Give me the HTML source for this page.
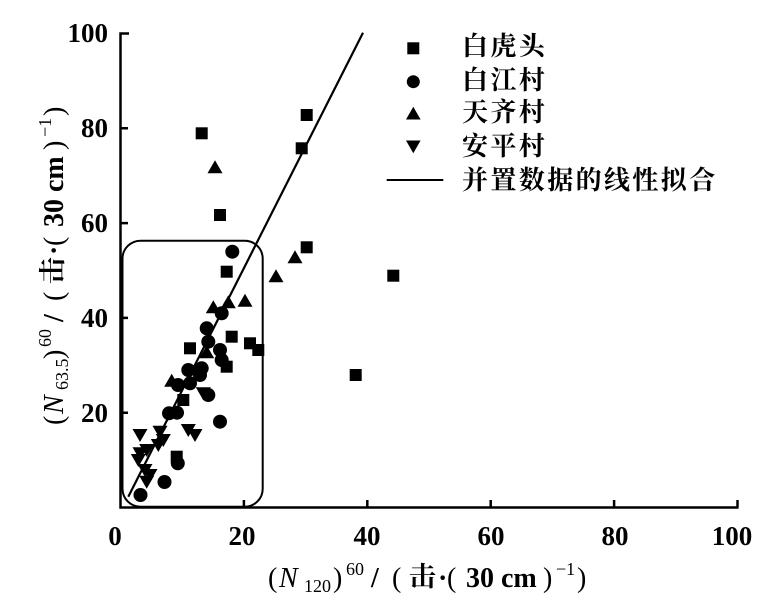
<!DOCTYPE html>
<html><head><meta charset="utf-8"><style>
html,body{margin:0;padding:0;background:#fff;}
svg{display:block;}
.t{font-family:"Liberation Serif","Noto Serif CJK SC",serif;font-weight:bold;font-size:27px;fill:#000;}
.l{font-family:"Liberation Serif","Noto Serif CJK SC",serif;fill:#000;}
.cn{font-family:"Liberation Serif","Noto Serif CJK SC",serif;font-weight:bold;font-size:26px;letter-spacing:2.4px;fill:#000;}
</style></head><body>
<svg width="780" height="616" viewBox="0 0 780 616" xmlns="http://www.w3.org/2000/svg">
<rect width="780" height="616" fill="#fff"/>
<!-- axes -->
<g stroke="#000" stroke-width="2.5" fill="none">
<path d="M129,33.5 H120.5 V507.5 H738.5"/>
<path d="M120.5,412.7 H128 M120.5,317.9 H128 M120.5,223.1 H128 M120.5,128.3 H128"/>
<path d="M243.9,507.5 V500 M367.3,507.5 V500 M490.7,507.5 V500 M614.1,507.5 V500 M737.5,507.5 V500"/>
</g>
<!-- rounded rect -->
<rect x="122.5" y="240.7" width="140.2" height="266" rx="18" ry="18" fill="none" stroke="#000" stroke-width="2"/>
<!-- fit line -->
<line x1="128.3" y1="496.7" x2="363" y2="32.7" stroke="#000" stroke-width="2.2"/>
<!-- y tick labels -->
<g class="t" text-anchor="end">
<text x="108" y="42">100</text>
<text x="108" y="137">80</text>
<text x="108" y="232">60</text>
<text x="108" y="327">40</text>
<text x="108" y="422">20</text>
</g>
<!-- x tick labels -->
<g class="t" text-anchor="middle">
<text x="115" y="545">0</text>
<text x="242" y="545">20</text>
<text x="367" y="545">40</text>
<text x="491" y="545">60</text>
<text x="615" y="545">80</text>
<text x="732" y="545">100</text>
</g>
<!-- squares -->
<g fill="#000">
<rect x="195.7" y="127.3" width="12" height="12"/>
<rect x="300.7" y="109" width="12" height="12"/>
<rect x="295.7" y="142.3" width="12" height="12"/>
<rect x="214" y="209" width="12" height="12"/>
<rect x="300.7" y="241.3" width="12" height="12"/>
<rect x="387.3" y="269.7" width="12" height="12"/>
<rect x="349.7" y="369" width="12" height="12"/>
<rect x="220.7" y="265.7" width="12" height="12"/>
<rect x="225.7" y="330.7" width="12" height="12"/>
<rect x="244" y="337.3" width="12" height="12"/>
<rect x="252.3" y="344" width="12" height="12"/>
<rect x="184" y="342.3" width="12" height="12"/>
<rect x="220.7" y="360.7" width="12" height="12"/>
<rect x="177.3" y="394" width="12" height="12"/>
<rect x="170.7" y="450.7" width="12" height="12"/>
</g>
<!-- circles -->
<g fill="#000">
<circle cx="232.3" cy="251.7" r="7"/>
<circle cx="221.7" cy="313.3" r="7"/>
<circle cx="206.7" cy="328.3" r="7"/>
<circle cx="208.3" cy="341.7" r="7"/>
<circle cx="220" cy="350" r="7"/>
<circle cx="221.7" cy="360" r="7"/>
<circle cx="188.3" cy="370" r="7"/>
<circle cx="201.7" cy="368.3" r="7"/>
<circle cx="200" cy="375" r="7"/>
<circle cx="178" cy="385" r="7"/>
<circle cx="190" cy="383.3" r="7"/>
<circle cx="208.3" cy="395" r="7"/>
<circle cx="169" cy="413.3" r="7"/>
<circle cx="177" cy="412.7" r="7"/>
<circle cx="220" cy="421.7" r="7"/>
<circle cx="177.8" cy="463.3" r="7"/>
<circle cx="164.5" cy="482" r="7"/>
<circle cx="140.5" cy="495" r="7"/>
</g>
<!-- up triangles -->
<g fill="#000">
<polygon points="215,160.3 207.5,173.3 222.5,173.3"/>
<polygon points="295,250.3 287.5,263.3 302.5,263.3"/>
<polygon points="276,269.3 268.5,282.3 283.5,282.3"/>
<polygon points="213.3,300.3 205.8,313.3 220.8,313.3"/>
<polygon points="228.3,295.3 220.8,308.3 235.8,308.3"/>
<polygon points="245,293.7 237.5,306.7 252.5,306.7"/>
<polygon points="206.7,345.3 199.2,358.3 214.2,358.3"/>
<polygon points="171.7,373.7 164.2,386.7 179.2,386.7"/>
</g>
<!-- down triangles -->
<g fill="#000">
<polygon points="195.8,387.3 210.8,387.3 203.3,400.3"/>
<polygon points="132.5,429 147.5,429 140,442"/>
<polygon points="152.5,425.7 167.5,425.7 160,438.7"/>
<polygon points="155.8,434 170.8,434 163.3,447"/>
<polygon points="180.8,424 195.8,424 188.3,437"/>
<polygon points="187.5,429 202.5,429 195,442"/>
<polygon points="150.8,439 165.8,439 158.3,452"/>
<polygon points="132.5,447.3 147.5,447.3 140,460.3"/>
<polygon points="139.2,444 154.2,444 146.7,457"/>
<polygon points="130.8,454 145.8,454 138.3,467"/>
<polygon points="137.5,464 152.5,464 145,477"/>
<polygon points="142.5,469 157.5,469 150,482"/>
<polygon points="139.2,475.7 154.2,475.7 146.7,488.7"/>
</g>
<!-- legend -->
<g fill="#000">
<rect x="407.3" y="42.3" width="12" height="12"/>
<circle cx="413.3" cy="81.7" r="6.5"/>
<polygon points="413.3,106.8 406,119.5 420.6,119.5"/>
<polygon points="406,140.5 420.6,140.5 413.3,153.2"/>
</g>
<line x1="386.7" y1="180" x2="443.3" y2="180" stroke="#000" stroke-width="2"/>
<g class="cn">
<text x="462" y="55">白虎头</text>
<text x="462" y="89">白江村</text>
<text x="462" y="121">天齐村</text>
<text x="462" y="155">安平村</text>
<text x="462" y="189">并置数据的线性拟合</text>
</g>
<!-- x axis label -->
<g class="l" transform="translate(268,587)">
<text x="0" y="0" font-size="28">(</text>
<text x="11" y="0" font-size="28" font-style="italic">N</text>
<text x="36" y="5" font-size="18">120</text>
<text x="65" y="0" font-size="28">)</text>
<text x="78" y="-12" font-size="18">60</text>
<text x="103" y="0" font-size="28" font-weight="bold">/</text>
<text x="124" y="0" font-size="28">(</text>
<text x="141" y="-1" font-size="27" font-weight="bold" font-family="Noto Serif CJK SC, serif">击</text>
<text x="170" y="0" font-size="28" font-weight="bold">·</text>
<text x="179" y="0" font-size="28">(</text>
<text x="198" y="0" font-size="28" font-weight="bold">30</text>
<text x="233" y="0" font-size="28" font-weight="bold">cm</text>
<text x="275" y="0" font-size="28">)</text>
<text x="288" y="-12" font-size="18">−1</text>
<text x="309" y="0" font-size="28">)</text>
</g>
<!-- y axis label -->
<g class="l" transform="translate(63,425) rotate(-90)">
<text x="0" y="0" font-size="28">(</text>
<text x="11" y="0" font-size="28" font-style="italic">N</text>
<text x="35" y="5" font-size="18">63.5</text>
<text x="66" y="0" font-size="28">)</text>
<text x="78" y="-12" font-size="18">60</text>
<text x="103" y="0" font-size="28" font-weight="bold">/</text>
<text x="124" y="0" font-size="28">(</text>
<text x="141" y="-1" font-size="27" font-weight="bold" font-family="Noto Serif CJK SC, serif">击</text>
<text x="170" y="0" font-size="28" font-weight="bold">·</text>
<text x="179" y="0" font-size="28">(</text>
<text x="198" y="0" font-size="28" font-weight="bold">30</text>
<text x="233" y="0" font-size="28" font-weight="bold">cm</text>
<text x="275" y="0" font-size="28">)</text>
<text x="288" y="-12" font-size="18">−1</text>
<text x="309" y="0" font-size="28">)</text>
</g>
</svg>
</body></html>
